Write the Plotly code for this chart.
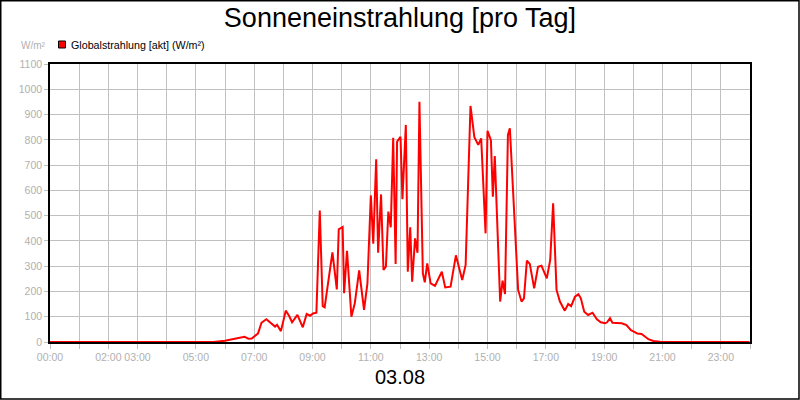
import plotly.graph_objects as go

# readings of the day (time of day, W/m²)
times = [
    "00:00", "05:36", "06:00", "06:20", "06:35", "06:40", "06:48", "06:55", "07:08", "07:15",
    "07:25", "07:36", "07:43", "07:47", "07:55", "08:05", "08:12", "08:18", "08:29", "08:40",
    "08:48", "08:55", "09:01", "09:08", "09:15", "09:21", "09:25", "09:41", "09:50", "09:54",
    "10:02", "10:05", "10:11", "10:20", "10:27", "10:36", "10:46", "10:53", "11:00", "11:05",
    "11:11", "11:15", "11:21", "11:26", "11:31", "11:36", "11:41", "11:46", "11:51", "11:54",
    "12:01", "12:05", "12:12", "12:16", "12:21", "12:25", "12:31", "12:36", "12:40", "12:47",
    "12:51", "12:56", "13:03", "13:12", "13:26", "13:33", "13:44", "13:55", "14:08", "14:15",
    "14:25", "14:33", "14:41", "14:47", "14:56", "15:00", "15:07", "15:11", "15:15", "15:26",
    "15:31", "15:36", "15:42", "15:46", "16:00", "16:03", "16:10", "16:15", "16:21", "16:27",
    "16:36", "16:44", "16:51", "17:02", "17:09", "17:15", "17:22", "17:29", "17:39", "17:46",
    "17:52", "18:00", "18:07", "18:12", "18:19", "18:27", "18:36", "18:45", "18:53", "19:02",
    "19:06", "19:12", "19:17", "19:26", "19:36", "19:46", "19:55", "20:01", "20:08", "20:17",
    "20:24", "20:31", "20:41", "20:55", "21:35", "23:59",
]
radiation = [
    0, 0, 5, 12, 17, 21, 13, 14, 34, 76,
    90, 71, 61, 68, 43, 124, 103, 78, 107, 58,
    111, 104, 113, 116, 520, 142, 137, 355, 208, 446,
    455, 193, 361, 100, 153, 283, 127, 232, 580, 389,
    723, 353, 584, 285, 298, 516, 454, 808, 309, 793,
    812, 565, 859, 278, 454, 239, 410, 353, 951, 272,
    236, 311, 232, 222, 278, 216, 219, 343, 245, 305,
    934, 810, 780, 806, 430, 836, 799, 575, 736, 160,
    243, 190, 819, 846, 338, 206, 160, 173, 322, 309,
    212, 298, 302, 252, 325, 549, 206, 160, 124, 150,
    142, 179, 189, 173, 120, 107, 116, 90, 78, 74,
    78, 94, 76, 76, 74, 67, 47, 41, 34, 32,
    21, 11, 4, 1, 0, 0,
]

label_hours = [0, 2, 3, 5, 7, 9, 11, 13, 15, 17, 19, 21, 23]
label_texts = ["00:00", "02:00", "03:00", "05:00", "07:00", "09:00", "11:00",
               "13:00", "15:00", "17:00", "19:00", "21:00", "23:00"]

hours = [int(t[:2]) + int(t[3:]) / 60 for t in times]
tick_vals = list(range(25))
tick_text = [label_texts[label_hours.index(h)] if h in label_hours else "" for h in tick_vals]

GRID = "#c0c0c0"
LABEL = "#b0b0b0"
FONT = "Liberation Sans, Arial, sans-serif"

fig = go.Figure()
fig.add_trace(go.Scatter(x=hours, y=radiation, mode="lines",
                         line=dict(color="#ff0000", width=2), showlegend=False,
                         name="Globalstrahlung [akt] (W/m²)"))

fig.update_layout(
    width=800, height=400,
    margin=dict(l=50, r=50, t=64, b=58, autoexpand=False),
    paper_bgcolor="white", plot_bgcolor="white",
    font=dict(family=FONT, color=LABEL, size=11),
    title=dict(text="Sonneneinstrahlung [pro Tag]", x=0.5, xanchor="center",
               y=1 - 18 / 400, yanchor="middle",
               font=dict(family=FONT, size=27, color="black")),
)
fig.update_xaxes(range=[0, 24], tickvals=tick_vals, ticktext=tick_text,
                 tickangle=0, automargin=False,
                 showgrid=True, gridcolor=GRID, gridwidth=1,
                 ticks="outside", ticklen=5, tickcolor=GRID,
                 showline=True, linecolor="black", linewidth=1.5, mirror=True,
                 zeroline=False, tickfont=dict(color=LABEL, size=10.5))
fig.update_yaxes(range=[0, 1100], dtick=100, automargin=False,
                 showgrid=True, gridcolor=GRID, gridwidth=1,
                 ticks="outside", ticklen=4, tickcolor=GRID,
                 showline=True, linecolor="black", linewidth=1.5, mirror=True,
                 zeroline=False, tickfont=dict(color=LABEL, size=10.5))

# pixel -> paper helpers for the decorations
def px_x(p):
    return (p - 50) / 700

def px_y(p):
    return (342 - p) / 278

# outer frame
fig.add_shape(type="rect", xref="paper", yref="paper",
              x0=px_x(0.75), x1=px_x(799), y0=px_y(399), y1=px_y(0.75),
              line=dict(color="black", width=1.5), layer="above")
# legend box
fig.add_shape(type="rect", xref="paper", yref="paper",
              x0=px_x(58.5), x1=px_x(65.5), y0=px_y(48), y1=px_y(41),
              fillcolor="#ff0000", line=dict(color="black", width=1))
fig.add_annotation(xref="paper", yref="paper", x=px_x(69), y=px_y(44.5),
                   xanchor="left", yanchor="middle", showarrow=False,
                   text="Globalstrahlung [akt] (W/m²)",
                   font=dict(family=FONT, size=10.7, color="black"))
fig.add_annotation(xref="paper", yref="paper", x=px_x(48), y=px_y(46),
                   xanchor="right", yanchor="middle", showarrow=False,
                   text="W/m²", font=dict(family=FONT, size=10, color=LABEL))
fig.add_annotation(xref="paper", yref="paper", x=0.5, y=px_y(377),
                   xanchor="center", yanchor="middle", showarrow=False,
                   text="03.08", font=dict(family=FONT, size=20, color="black"))

# drop the browser's default page margin so the chart sits at the top-left corner
fig.write_html("out.html", config={"displayModeBar": False},
               post_script="document.body.style.margin = '0';")
